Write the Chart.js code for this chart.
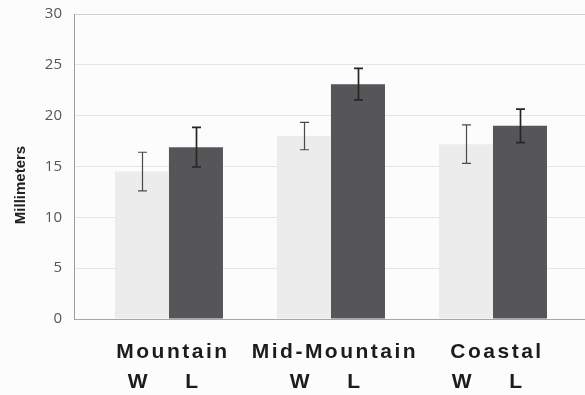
<!DOCTYPE html>
<html>
<head>
<meta charset="utf-8">
<script src="https://cdn.jsdelivr.net/npm/chart.js@4/dist/chart.umd.min.js"></script>
<style>
  html, body { margin: 0; padding: 0; background: #fcfcfc; overflow: hidden; }
  #wrap { width: 585px; height: 395px; position: relative; }
</style>
</head>
<body>
<div id="wrap"><canvas id="c" width="585" height="395"></canvas></div>
<script>
// Bone length by region, W and L groups (mean ± error)
const categories = ['Mountain', 'Mid-Mountain', 'Coastal'];
const seriesNames = ['W', 'L'];
const wValues = [14.5, 18.0, 17.2];
const lValues = [16.9, 23.1, 19.0];
const wErrors = [1.9, 1.35, 1.9];
const lErrors = [1.95, 1.55, 1.65];
const yTicks = [0, 5, 10, 15, 20, 25, 30];
const yTitle = 'Millimeters';

const toPoints = vals => vals.map((v, i) => ({ x: i, y: v }));

// Page background
const backdrop = {
  id: 'backdrop',
  beforeDraw(chart) {
    const ctx = chart.ctx;
    ctx.save();
    ctx.fillStyle = '#fcfcfc';
    ctx.fillRect(0, 0, chart.width, chart.height);
    ctx.restore();
  }
};

// Error bars with small caps, drawn on top of each bar
const errorBars = {
  id: 'errorBars',
  afterDatasetsDraw(chart) {
    const ctx = chart.ctx;
    const y = chart.scales.y;
    const errs = [wErrors, lErrors];
    const vals = [wValues, lValues];
    const styles = [
      { color: '#4a4a4a', width: 1.2 },
      { color: '#262626', width: 1.7 }
    ];
    ctx.save();
    chart.data.datasets.forEach((ds, di) => {
      const meta = chart.getDatasetMeta(di);
      ctx.strokeStyle = styles[di].color;
      ctx.lineWidth = styles[di].width;
      meta.data.forEach((el, i) => {
        const v = vals[di][i], e = errs[di][i];
        const top = y.getPixelForValue(v + e);
        const bot = y.getPixelForValue(v - e);
        const cx = Math.round(el.x) + 0.5;
        ctx.beginPath();
        ctx.moveTo(cx, top); ctx.lineTo(cx, bot);
        ctx.moveTo(cx - 4.5, top); ctx.lineTo(cx + 4.5, top);
        ctx.moveTo(cx - 4.5, bot); ctx.lineTo(cx + 4.5, bot);
        ctx.stroke();
      });
    });
    ctx.restore();
  }
};

// Category names and W / L labels under the bars, plus the y-axis title
const labels = {
  id: 'labels',
  afterDraw(chart) {
    const ctx = chart.ctx;
    const x = chart.scales.x;
    ctx.save();
    ctx.fillStyle = '#1c1c1c';
    ctx.font = 'bold 21px "Liberation Sans", Arial, sans-serif';
    if ('letterSpacing' in ctx) ctx.letterSpacing = '2.5px';
    ctx.textAlign = 'center';
    ctx.textBaseline = 'alphabetic';
    categories.forEach((name, i) => {
      ctx.fillText(name, x.getPixelForValue(i) + 4, 358);
    });
    chart.data.datasets.forEach((ds, di) => {
      chart.getDatasetMeta(di).data.forEach(el => {
        ctx.fillText(seriesNames[di], el.x - 3, 388);
      });
    });
    if ('letterSpacing' in ctx) ctx.letterSpacing = '0px';
    ctx.translate(21, 185);
    ctx.rotate(-Math.PI / 2);
    ctx.font = 'bold 15px "Liberation Sans", Arial, sans-serif';
    ctx.textBaseline = 'middle';
    ctx.fillStyle = '#222';
    ctx.fillText(yTitle, 0, 0);
    ctx.restore();
  }
};

new Chart(document.getElementById('c'), {
  type: 'bar',
  data: {
    datasets: [
      { label: seriesNames[0], data: toPoints(wValues), backgroundColor: '#ececec', borderWidth: 0 },
      { label: seriesNames[1], data: toPoints(lValues), backgroundColor: '#565658', borderWidth: 0 }
    ]
  },
  options: {
    responsive: false,
    devicePixelRatio: 1,
    animation: false,
    categoryPercentage: 0.667,
    barPercentage: 1.0,
    layout: { padding: { top: 14, left: 0, right: 0, bottom: 0 } },
    plugins: { legend: { display: false }, tooltip: { enabled: false } },
    scales: {
      x: {
        type: 'linear',
        offset: false,
        min: -0.586,
        max: 2.568,
        afterBuildTicks: s => { s.ticks = categories.map((c, i) => ({ value: i })); },
        ticks: { display: false },
        grid: { display: false },
        border: { display: false },
        afterFit: s => { s.height = 76; }
      },
      y: {
        min: 0,
        max: 30,
        afterBuildTicks: s => { s.ticks = yTicks.map(v => ({ value: v })); },
        ticks: {
          font: { family: '"Open Sans", sans-serif', size: 15 },
          color: '#555',
          padding: 0
        },
        grid: {
          drawTicks: true,
          tickLength: 12,
          tickColor: 'rgba(0,0,0,0)',
          color: c => c.tick.value === 0 ? '#a6a6a6' : (c.tick.value === 30 ? '#d2d2d2' : '#e6e6e6')
        },
        border: { color: '#9c9c9c' },
        afterFit: s => { s.width = 74; }
      }
    }
  },
  plugins: [backdrop, errorBars, labels]
});
</script>
</body>
</html>
